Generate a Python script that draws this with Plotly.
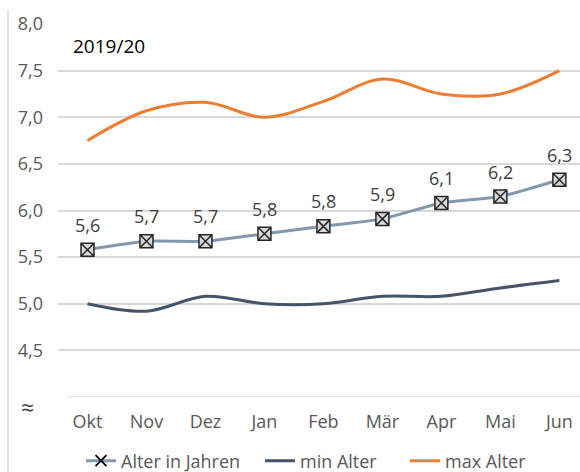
import plotly.graph_objects as go

months = ["Okt", "Nov", "Dez", "Jan", "Feb", "Mär", "Apr", "Mai", "Jun"]
alter = [5.58, 5.67, 5.67, 5.75, 5.83, 5.91, 6.08, 6.15, 6.33]
alter_labels = ["5,6", "5,7", "5,7", "5,8", "5,8", "5,9", "6,1", "6,2", "6,3"]
min_alter = [5.0, 4.92, 5.08, 5.0, 5.0, 5.08, 5.08, 5.17, 5.25]
max_alter = [6.75, 7.07, 7.16, 7.0, 7.17, 7.41, 7.25, 7.25, 7.5]
y_ticks = [4.5, 5.0, 5.5, 6.0, 6.5, 7.0, 7.5, 8.0]
y_ticktext = ["4,5", "5,0", "5,5", "6,0", "6,5", "7,0", "7,5", "8,0"]

FONT = "Open Sans, Noto Sans, sans-serif"
C_ALTER = "#8497b0"
C_MIN = "#44546a"
C_MAX = "#ed7d31"
FS = 18

W, H = 580, 472
L, T = 58, 24
PW, PH = 522, 373
B = H - T - PH

def px(x):  # figure pixel -> paper x
    return (x - L) / PW

def py(y):  # figure pixel -> paper y
    return (T + PH - y) / PH

fig = go.Figure()

# legend-only entry for Alter in Jahren
fig.add_trace(go.Scatter(
    x=[None], y=[None], mode="lines+markers", name="Alter in Jahren", legend="legend",
    line=dict(color=C_ALTER, width=3),
    marker=dict(symbol="x-thin-open", size=11, color="black", line=dict(color="black", width=1.8)),
))
fig.add_trace(go.Scatter(
    x=months, y=min_alter, mode="lines", name="min Alter", legend="legend2",
    line=dict(color=C_MIN, width=3, shape="spline", smoothing=1.0),
))
fig.add_trace(go.Scatter(
    x=months, y=max_alter, mode="lines", name="max Alter", legend="legend3",
    line=dict(color=C_MAX, width=3, shape="spline", smoothing=1.0),
))
fig.add_trace(go.Scatter(
    x=months, y=alter, mode="lines+markers", name="Alter in Jahren", showlegend=False,
    line=dict(color=C_ALTER, width=3, shape="spline", smoothing=0.5),
    marker=dict(symbol="square-x", size=13, color="#d9d9d9", line=dict(color="#262626", width=1.5)),
))

annotations = []
for m, v, t in zip(months, alter, alter_labels):
    annotations.append(dict(x=m, y=v, text=t, showarrow=False, yshift=25,
                            font=dict(family=FONT, size=FS, color="#404040")))
annotations.append(dict(xref="paper", yref="paper", x=px(71), y=py(46),
                        text="2019/20", showarrow=False, xanchor="left", yanchor="middle",
                        font=dict(family=FONT, size=19, color="black")))
annotations.append(dict(xref="paper", yref="paper", x=px(27), y=py(407),
                        text="≈", showarrow=False, xanchor="center", yanchor="middle",
                        font=dict(family=FONT, size=23, color="#404040")))

shapes = [
    # bottom (broken axis) gridline
    dict(type="line", xref="paper", yref="y", x0=px(68), x1=1, y0=4.0, y1=4.0,
         line=dict(color="#d9d9d9", width=1.5), layer="below"),
    # left border line of chart area
    dict(type="line", xref="paper", yref="paper", x0=px(8), x1=px(8),
         y0=py(H), y1=py(10), line=dict(color="#d9d9d9", width=1.5)),
]

def leg(x_text):
    return dict(orientation="h", x=px(x_text - 42), xanchor="left",
                y=py(461), yanchor="middle",
                font=dict(family=FONT, size=FS, color="#595959"),
                itemwidth=30, bgcolor="rgba(0,0,0,0)", borderwidth=0)

fig.update_layout(
    width=W, height=H,
    margin=dict(l=L, r=W - L - PW, t=T, b=B, pad=0, autoexpand=False),
    paper_bgcolor="white", plot_bgcolor="white",
    font=dict(family=FONT, size=FS, color="#595959"),
    showlegend=True,
    legend=leg(123),
    legend2=leg(302),
    legend3=leg(447),
    annotations=annotations,
    shapes=shapes,
)
fig.update_xaxes(type="category", range=[-0.5, 8.35], showgrid=False, zeroline=False,
                 showline=False, ticks="", ticklabelstandoff=12, automargin=False,
                 tickfont=dict(family=FONT, size=FS, color="#595959"))
fig.update_yaxes(range=[4.0, 8.0], tickvals=y_ticks, ticktext=y_ticktext,
                 showgrid=True, gridcolor="#d9d9d9", gridwidth=1.5, zeroline=False,
                 showline=False, ticks="", ticklabelstandoff=14, automargin=False,
                 tickfont=dict(family=FONT, size=FS, color="#595959"))

fig.write_html("out.html", config={"displayModeBar": False},
               post_script="document.body.style.margin='0';document.body.style.overflow='hidden';")
